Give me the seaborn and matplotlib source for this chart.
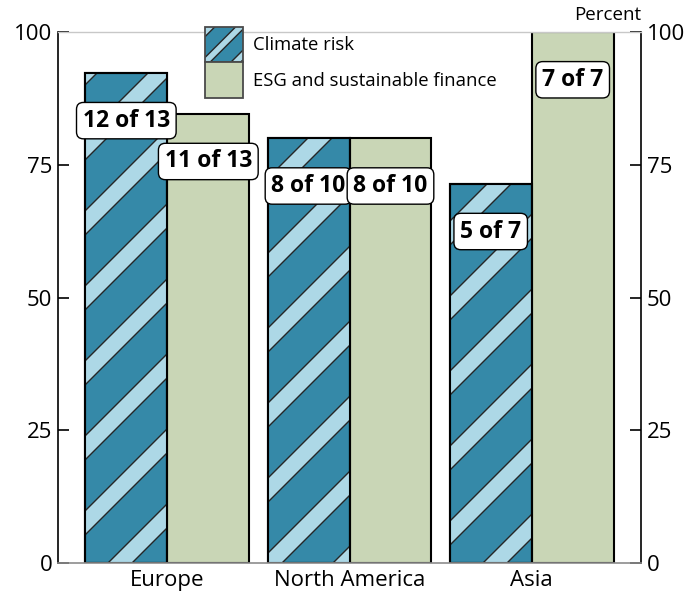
import numpy as np
import pandas as pd
import matplotlib
matplotlib.use("Agg")
import matplotlib.pyplot as plt
import seaborn as sns
from matplotlib.collections import PolyCollection, LineCollection
from matplotlib.patches import Rectangle, Patch
from matplotlib.legend_handler import HandlerBase

# Survey results: how many authorities in each region cover the topic
regions = ["Europe", "North America", "Asia"]
climate_yes = [12, 8, 5]
esg_yes = [11, 8, 7]
surveyed = [13, 10, 7]
series_names = ["Climate risk", "ESG and sustainable finance"]
y_ticks = [0, 25, 50, 75, 100]

TEAL = "#3589a8"
STRIPE = "#add8e6"
SAGE = "#c9d6b6"
INK = "#262626"

sns.set_theme(style="white")
plt.rcParams["font.family"] = ["Open Sans", "DejaVu Sans"]
plt.rcParams["text.color"] = "black"

rows = []
for r, c, e, n in zip(regions, climate_yes, esg_yes, surveyed):
    rows.append({"region": r, "topic": series_names[0], "count": c, "total": n})
    rows.append({"region": r, "topic": series_names[1], "count": e, "total": n})
df = pd.DataFrame(rows)
df["percent"] = df["count"] / df["total"] * 100
df["label"] = df["count"].astype(str) + " of " + df["total"].astype(str)


def stripe_artists(x0, y0, x1, y1, period, band, phase, transform, clip, lw):
    """Diagonal light bands with dark borders along y - x = const, clipped to a patch."""
    cmin, cmax = y0 - x1, y1 - x0
    k0 = int(np.floor((cmin - phase - band) / period)) - 1
    k1 = int(np.ceil((cmax - phase) / period)) + 1
    polys, segs = [], []
    for k in range(k0, k1 + 1):
        lo = phase + k * period
        hi = lo + band
        polys.append([(x0, x0 + lo), (x1, x1 + lo), (x1, x1 + hi), (x0, x0 + hi)])
        segs.append([(x0, x0 + lo), (x1, x1 + lo)])
        segs.append([(x0, x0 + hi), (x1, x1 + hi)])
    pc = PolyCollection(polys, facecolors=STRIPE, edgecolors="none", transform=transform)
    lc = LineCollection(segs, colors=INK, linewidths=lw, transform=transform)
    for a in (pc, lc):
        a.set_clip_path(clip.get_path(), clip.get_transform())
    return pc, lc


class SwatchHandler(HandlerBase):
    def __init__(self, striped):
        super().__init__()
        self.striped = striped

    def create_artists(self, legend, orig_handle, xdescent, ydescent,
                       width, height, fontsize, trans):
        x0, y0 = -xdescent, -ydescent
        face = Rectangle((x0, y0), width, height, facecolor=orig_handle.get_facecolor(),
                         edgecolor="none", transform=trans)
        arts = [face]
        if self.striped:
            band = 7.0
            pc, lc = stripe_artists(x0, y0, x0 + width, y0 + height, 22.0, band,
                                    (y0 - x0) - band / 2, trans, face, 1.0)
            arts += [pc, lc]
        edge = Rectangle((x0, y0), width, height, fill=False, edgecolor="#4a4a4a",
                         linewidth=1.3, transform=trans)
        arts.append(edge)
        return arts


fig = plt.figure(figsize=(6.95, 5.94), dpi=100)
ax = fig.add_axes([58 / 695, 31 / 594, 583 / 695, 531 / 594])

sns.barplot(data=df, x="region", y="percent", hue="topic", order=regions,
            hue_order=series_names, palette=[TEAL, SAGE], saturation=1,
            width=0.9, gap=0, edgecolor="black", linewidth=1.5,
            legend=False, ax=ax)

ax.set_xlim(-0.6, 2.6)
ax.set_ylim(0, 100)
ax.set_yticks(y_ticks)
ax.set_xlabel("")
ax.set_ylabel("")

# striped fill for the climate-risk bars, with their outlines redrawn on top
fig_w, fig_h = fig.get_size_inches()
for bar in ax.containers[0]:
    pc, lc = stripe_artists(-1, -1, fig_w + 1, fig_h + 1, 0.75, 0.24, 0.49,
                            fig.dpi_scale_trans, bar, 1.0)
    pc.set_zorder(1.1)
    lc.set_zorder(1.2)
    ax.add_collection(pc, autolim=False)
    ax.add_collection(lc, autolim=False)
    ax.add_patch(Rectangle((bar.get_x(), bar.get_y()), bar.get_width(), bar.get_height(),
                           fill=False, edgecolor="black", linewidth=1.5, zorder=1.3))

# "n of N" labels just below each bar top
for i, topic in enumerate(series_names):
    sub = df[df["topic"] == topic].set_index("region").loc[regions]
    for bar, pct, lab in zip(ax.containers[i], sub["percent"], sub["label"]):
        ax.text(bar.get_x() + bar.get_width() / 2, pct - 9, lab,
                ha="center", va="center", fontsize=16.5, fontweight="bold",
                color="black", zorder=4,
                bbox=dict(boxstyle="round,pad=0.27,rounding_size=0.3",
                          facecolor="white", edgecolor="black", linewidth=1.0))

# axes styling
for side in ("left", "right"):
    ax.spines[side].set_color("black")
    ax.spines[side].set_linewidth(1.2)
ax.spines["top"].set_color("#c8c8c8")
ax.spines["top"].set_linewidth(1.0)
ax.spines["bottom"].set_color("#8c8c8c")
ax.spines["bottom"].set_linewidth(1.2)

ax.tick_params(axis="y", which="both", direction="in", length=8, width=1.2,
               color="black", left=True, right=True, labelleft=True,
               labelright=True, labelsize=16, labelcolor="black", pad=4)
ax.tick_params(axis="x", length=0, labelsize=16, labelcolor="black", pad=5)

ax.annotate("Percent", xy=(1, 1), xycoords="axes fraction", xytext=(0, 9),
            textcoords="offset points", ha="right", va="baseline",
            fontsize=13.5, color="black")

climate_proxy = Patch(facecolor=TEAL)
esg_proxy = Patch(facecolor=SAGE)
ax.legend([climate_proxy, esg_proxy], series_names,
          handler_map={climate_proxy: SwatchHandler(True), esg_proxy: SwatchHandler(False)},
          loc="upper left", bbox_to_anchor=(205 / 695, 1 - 27 / 594),
          bbox_transform=fig.transFigure, frameon=False, fontsize=13.3,
          labelcolor="black", handlelength=2.05, handleheight=2.57,
          labelspacing=0.0, handletextpad=0.55, borderpad=0, borderaxespad=0)

fig.savefig("out.png", dpi=100)
